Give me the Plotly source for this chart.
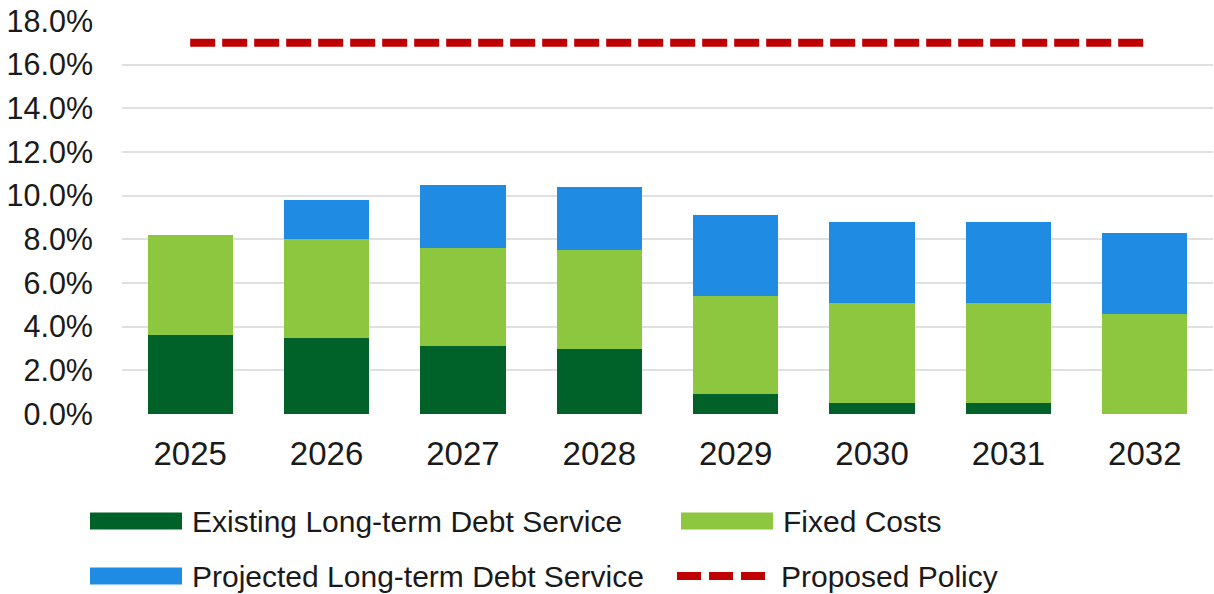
import plotly.graph_objects as go

years = ["2025", "2026", "2027", "2028", "2029", "2030", "2031", "2032"]
existing_debt = [3.6, 3.5, 3.1, 3.0, 0.9, 0.5, 0.5, 0.0]
fixed_costs = [4.6, 4.5, 4.5, 4.5, 4.5, 4.6, 4.6, 4.6]
projected_debt = [0.0, 1.8, 2.9, 2.9, 3.7, 3.7, 3.7, 3.7]
proposed_policy = [17.0] * len(years)
y_ticks = [0, 2, 4, 6, 8, 10, 12, 14, 16, 18]

DARK_GREEN = "#006228"
LIGHT_GREEN = "#8DC63F"
BLUE = "#1F8BE3"
RED = "#C00000"
FONT = "Liberation Sans, Arial, sans-serif"

W, H = 1214, 594
L, R, T, B = 122, 1, 21, 180
plot_w = W - L - R
plot_h = H - T - B

fig = go.Figure()
fig.add_bar(x=years, y=existing_debt, name="Existing Long-term Debt Service",
            marker=dict(color=DARK_GREEN, line=dict(width=0)))
fig.add_bar(x=years, y=fixed_costs, name="Fixed Costs",
            marker=dict(color=LIGHT_GREEN, line=dict(width=0)))
fig.add_bar(x=years, y=projected_debt, name="Projected Long-term Debt Service",
            marker=dict(color=BLUE, line=dict(width=0)))
fig.add_scatter(x=years, y=proposed_policy, name="Proposed Policy", mode="lines",
                line=dict(color=RED, width=8, dash="25px,7px"))


def px_x(px):
    return (px - L) / plot_w


def px_y(py):
    return (H - B - py) / plot_h


# hand-placed legend: swatches as shapes, labels as annotations
legend_items = [
    ("Existing Long-term Debt Service", DARK_GREEN, "bar", 90, 521),
    ("Fixed Costs", LIGHT_GREEN, "bar", 681, 521),
    ("Projected Long-term Debt Service", BLUE, "bar", 90, 576),
    ("Proposed Policy", RED, "line", 677, 576),
]
shapes = []
annotations = []
for label, color, kind, x0, yc in legend_items:
    if kind == "bar":
        shapes.append(dict(type="rect", xref="paper", yref="paper",
                           x0=px_x(x0), x1=px_x(x0 + 92),
                           y0=px_y(yc - 8.5), y1=px_y(yc + 8.5),
                           fillcolor=color, line=dict(width=0)))
        tx = x0 + 100
    else:
        shapes.append(dict(type="line", xref="paper", yref="paper",
                           x0=px_x(x0), x1=px_x(x0 + 88),
                           y0=px_y(yc), y1=px_y(yc),
                           line=dict(color=color, width=8, dash="24px,8px")))
        tx = x0 + 102
    annotations.append(dict(xref="paper", yref="paper", x=px_x(tx), y=px_y(yc),
                            xanchor="left", yanchor="middle", showarrow=False,
                            text=label, font=dict(family=FONT, size=30, color="#1a1a1a")))

fig.update_layout(
    width=W, height=H,
    margin=dict(l=L, r=R, t=T, b=B),
    barmode="stack",
    bargap=0.375,
    showlegend=False,
    plot_bgcolor="white",
    paper_bgcolor="white",
    font=dict(family=FONT, color="#1a1a1a"),
    shapes=shapes,
    annotations=annotations,
)
fig.update_xaxes(showgrid=False, showline=False, zeroline=False,
                 tickfont=dict(size=33), ticks="", ticklabelstandoff=17)
fig.update_yaxes(range=[0, 18], tickvals=y_ticks,
                 ticktext=[f"{v:.1f}%" for v in y_ticks],
                 showgrid=True, gridcolor="#E0E0E0", gridwidth=2,
                 zeroline=False, showline=False,
                 tickfont=dict(size=30.5), ticks="", ticklabelstandoff=28)

fig.write_html("out.html")
